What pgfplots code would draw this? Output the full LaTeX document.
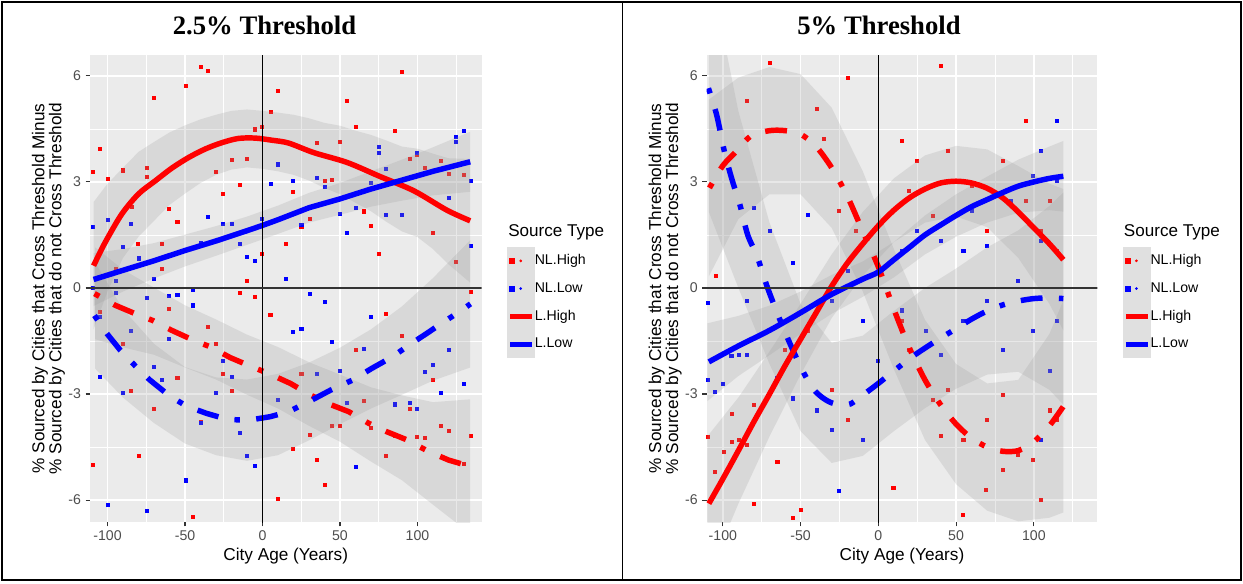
\documentclass[border=0pt]{standalone}
\usepackage{fontspec}
\setmainfont{Liberation Sans}
\newfontfamily\titlefont{Liberation Serif}
\usepackage{pgfplots}
\pgfplotsset{compat=1.18}
\definecolor{panelbg}{HTML}{EBEBEB}
\definecolor{tickcol}{HTML}{4D4D4D}
\definecolor{keybg}{HTML}{E0E0E0}
\pgfplotsset{
  common/.style={
    scale only axis, anchor=south west, height=350.25pt, ymin=-6.62, ymax=6.59,
    axis background/.style={fill=panelbg},
    axis line style={draw=none},
    xtick={-100,-50,0,50,100}, ytick={-6,-3,0,3,6},
    minor xtick={-75,-25,25,75,125}, minor ytick={-4.5,-1.5,1.5,4.5},
    grid=both, major grid style={white, line width=1.1pt}, minor grid style={white, line width=0.55pt},
    tick align=outside, major tick length=3.2pt, minor tick length=0pt,
    xtick pos=bottom, ytick pos=left,
    tick style={black!80, line width=0.8pt},
    tick label style={font=\fontsize{10.6}{12}\selectfont, text=tickcol},
    /pgf/number format/assume math mode=true,
    xlabel={City Age (Years)},
    xlabel style={at={(axis description cs:0.5,-0.0728)}, anchor=center, font=\fontsize{12.9}{14}\selectfont},
    ylabel={\% Sourced by Cities that Cross Threshold Minus\\\% Sourced by Cities that do not Cross Threshold},
    ylabel style={at={(axis description cs:-0.106,0.5)}, anchor=center, align=center, font=\fontsize{12.9}{12.8}\selectfont},
    clip mode=individual,
    legend style={at={(axis description cs:1.0651,0.5895)}, anchor=north west, draw=none, fill=none,
      inner sep=0pt, row sep=0pt, font=\fontsize{10.6}{12}\selectfont, nodes={inner sep=0pt},
      /tikz/column 2/.style={column sep=6.75pt}},
    legend cell align=left,
  },
  rib/.style={fill=black!40, fill opacity=0.22, draw=none, forget plot},
  lcurve/.style={line width=4.1pt, forget plot, line join=round},
  nlcurve/.style={line width=4.1pt, forget plot, dash pattern=on 4.1pt off 12.3pt on 16.4pt off 12.3pt},
  pts/.style={only marks, mark=square*, mark size=1.15pt, forget plot},
  zline/.style={line width=1.25pt, forget plot},
}
\newcommand{\legendkeys}{%
  \addlegendimage{legend image code/.code={\fill[keybg] (0pt,-10.2pt) rectangle (20.25pt,10.2pt); \fill[red] (1.5pt,-1.9pt) rectangle (5.25pt,1.9pt); \fill[red] (9.9pt,0pt) circle (0.8pt);}}
  \addlegendentry{NL.High}
  \addlegendimage{legend image code/.code={\fill[keybg] (0pt,-10.2pt) rectangle (20.25pt,10.2pt); \fill[blue] (1.5pt,-1.9pt) rectangle (5.25pt,1.9pt); \fill[blue] (9.9pt,0pt) circle (0.8pt);}}
  \addlegendentry{NL.Low}
  \addlegendimage{legend image code/.code={\fill[keybg] (0pt,-10.2pt) rectangle (20.25pt,10.2pt); \draw[red, line width=3.75pt] (2pt,0pt) -- (18.25pt,0pt);}}
  \addlegendentry{L.High}
  \addlegendimage{legend image code/.code={\fill[keybg] (0pt,-10.2pt) rectangle (20.25pt,10.2pt); \draw[blue, line width=3.75pt] (2pt,0pt) -- (18.25pt,0pt);}}
  \addlegendentry{L.Low}
}
\begin{document}
\begin{tikzpicture}
\useasboundingbox (0,0) rectangle (932.25pt,437.25pt);
% ================= Panel 1 =================
\begin{axis}[common, at={(67.5pt,45.75pt)}, width=293.625pt, xmin=-111.3, xmax=141.3]
% points
\addplot[pts, red] coordinates {
(-109.7,3.29) (-105.2,3.95) (-99.8,3.10) (-89.9,3.33) (-74.6,3.39) (-74.6,3.15) (-70.1,5.37) (-49.7,5.72) (-39.8,6.26) (-35.3,6.15) (-29.9,3.29) (-25.4,2.66) (-19.8,3.62) (-14.4,2.93) (-10.1,3.66) (-4.7,4.49) (-0.4,4.56) (5.2,4.99) (9.9,5.59) (-84.3,2.30) (-80.2,1.25) (-64.7,1.25) (-60.2,2.23) (-55.0,1.87) (-65,0.54) (-94.6,0.54) (-0.4,0.98) (-10.1,0.21) (15.3,1.25)
(89.7,6.12) (54.6,5.29) (60,4.56) (85.2,4.46) (34.8,4.10) (49.9,4.13) (95,3.66) (99.4,3.76) (114.8,3.60) (104.7,3.39) (120.2,3.24) (129.9,3.19) (40.2,3.03) (44.5,3.06) (19.5,2.73) (30.3,1.97) (25,1.73) (65.4,2.17) (69.9,1.76) (109.9,1.57) (14.8,1.24) (75,0.96) (124.5,0.75)
(-105.2,-0.66) (-89.9,-1.59) (-84.7,-2.91) (-70.1,-3.41) (-60.2,-0.60) (-55,-2.55) (-35.3,-1.09) (-29.9,-1.59) (-25.4,-2.42) (-19.8,-2.91) (-14.4,-0.14) (-4.7,-0.26) (5,-0.75) (-39.8,-3.79) (-80,-4.74) (-109.7,-5.01) (-45.2,-6.48) (9.7,-5.95)
(134.6,-0.10) (79.8,-0.73) (89.7,-1.36) (60,-1.76) (110.1,-2.59) (25,-2.42) (65.4,-3.19) (95,-3.42) (44.5,-3.91) (49.9,-3.91) (69.9,-3.95) (114.8,-3.89) (120.2,-4.05) (30.3,-4.14) (85.2,-4.19) (99.4,-4.21) (104.7,-4.25) (134.6,-4.18) (19.5,-4.55) (79.8,-4.74) (34.8,-4.85) (129.9,-4.98) (40.2,-5.57)
};
\addplot[pts, blue] coordinates {
(-109.7,1.74) (-99.8,1.93) (-84.7,1.81) (-80,2.66) (-89.9,1.17) (-80,0.84) (-94.6,0.21) (-70.1,0.26) (-39.8,1.29) (-35.3,2.02) (-25.4,1.81) (-19.8,1.81) (-14.4,1.25) (-10.1,0.87) (-4.7,0.78) (-0.4,1.95) (5.2,2.94) (9.9,3.50) (15.3,0.26) (-109.7,0.0) (-45.2,-0.04)
(129.9,4.46) (124.5,4.29) (124.5,4.14) (75,3.99) (75,3.83) (99.4,3.83) (79.5,3.37) (19.5,3.03) (34.8,3.13) (40.2,2.86) (69.7,2.97) (134.6,3.03) (120.2,2.56) (60,2.26) (49.9,2.09) (79.5,2.06) (89.7,2.06) (25,1.79) (54.6,1.57) (134.6,1.20)
(-94.6,-0.14) (-105.2,-0.82) (-74.6,-0.29) (-60.4,-0.23) (-55,-0.19) (-45,-0.49) (-84.7,-1.20) (-60.4,-1.43) (-105.2,-2.52) (-89.9,-2.96) (-70.1,-2.23) (-65,-2.59) (-25.4,-2.06) (-19.8,-2.52) (-29.9,-2.96) (-39.8,-3.80) (-14.4,-4.10) (-10.1,-4.74) (-4.7,-5.02) (9.7,-3.15) (-49.7,-5.44) (-99.8,-6.14) (-74.6,-6.31)
(30.3,-0.16) (40.2,-0.39) (69.9,-0.82) (19.5,-1.23) (25,-1.16) (44.5,-1.52) (65.4,-1.73) (120.2,-1.76) (49.9,-2.33) (34.8,-2.42) (104.7,-2.36) (110.1,-2.16) (129.9,-2.72) (114.8,-2.96) (54.6,-3.25) (85.2,-3.29) (95,-3.25) (99.4,-3.42) (60,-5.07)
};
% ribbons
\addplot[rib] coordinates {(-108,1.15) (-90,0.52) (-70,0.01) (-50,-0.49) (-30,-0.89) (-10,-1.32) (10,-1.67) (30,-2.1) (50,-2.45) (70,-2.81) (90,-3.04) (110,-3.23) (134,-3.15)
 (134,-6.95) (110,-6.13) (90,-5.44) (70,-4.91) (50,-4.35) (30,-3.9) (10,-3.41) (-10,-3.02) (-30,-2.59) (-50,-2.25) (-70,-1.89) (-90,-1.68) (-108,-1.45)} -- cycle;
\addplot[rib] coordinates {(-108,0.72) (-90,-0.6) (-70,-1.58) (-50,-2.24) (-30,-2.53) (-10,-2.59) (10,-2.43) (30,-2.11) (50,-1.69) (70,-1.17) (90,-0.52) (110,0.28) (134,1.35)
 (134,-2.25) (110,-2.62) (90,-3.02) (70,-3.41) (50,-3.85) (30,-4.31) (10,-4.73) (-10,-4.89) (-30,-4.73) (-50,-4.4) (-70,-3.82) (-90,-3.1) (-108,-2.28)} -- cycle;
\addplot[rib] coordinates {(-109,2.43) (-100,2.95) (-90,3.4) (-80,3.85) (-70,4.13) (-60,4.4) (-50,4.6) (-40,4.77) (-30,4.9) (-20,5.01) (-10,5.05) (0,5.01) (10,4.96) (20,4.9) (30,4.8) (40,4.67) (50,4.59) (60,4.45) (70,4.33) (80,4.17) (90,4.0) (100,3.94) (110,3.8) (120,3.67) (134,3.65)
 (134,0.15) (120,0.67) (110,1.1) (100,1.44) (90,1.6) (80,1.87) (70,2.17) (60,2.41) (50,2.65) (40,2.83) (30,3.04) (20,3.2) (10,3.3) (0,3.37) (-10,3.41) (-20,3.35) (-30,3.2) (-40,2.97) (-50,2.67) (-60,2.35) (-70,1.9) (-80,1.45) (-90,0.85) (-100,-0.1) (-109,-1.17)} -- cycle;
\addplot[rib] coordinates {(-109,0.99) (-90,1.1) (-70,1.27) (-50,1.51) (-30,1.75) (-10,2.02) (10,2.33) (30,2.69) (50,2.97) (70,3.3) (90,3.63) (110,3.98) (134,4.42)
 (134,2.72) (110,2.62) (90,2.47) (70,2.3) (50,2.07) (30,1.85) (10,1.53) (-10,1.22) (-30,0.91) (-50,0.61) (-70,0.27) (-90,-0.1) (-109,-0.51)} -- cycle;
% curves
\addplot[nlcurve, red] coordinates {(-108.4,-0.16) (-95,-0.49) (-82,-0.73) (-70.8,-0.92) (-58.5,-1.2) (-44.5,-1.48) (-33.4,-1.67) (-20.8,-1.97) (-7.9,-2.21) (5,-2.44) (18,-2.70) (31,-3.03) (43.4,-3.29) (55.7,-3.5) (68.6,-3.83) (80.4,-4.07) (93.4,-4.3) (107.3,-4.63) (120.2,-4.87) (134.2,-5.05)};
\addplot[nlcurve, blue] coordinates {(-108.4,-0.78) (-100.4,-1.29) (-91.8,-1.76) (-82.2,-2.2) (-72.5,-2.61) (-60.6,-3.03) (-49.2,-3.34) (-35.9,-3.55) (-22.4,-3.72) (-8.8,-3.74) (5,-3.64) (16.8,-3.50) (31,-3.19) (43.9,-2.89) (57.9,-2.61) (70.3,-2.28) (83.7,-1.95) (94.4,-1.62) (105.8,-1.29) (117,-0.96) (128.8,-0.62) (134.2,-0.45)};
\addplot[lcurve, red, smooth] coordinates {(-109,0.63) (-101.5,1.29) (-90.8,2.09) (-80,2.66) (-69.2,3.03) (-58.5,3.39) (-47.7,3.69) (-37,3.93) (-26.2,4.11) (-15.5,4.23) (-4.7,4.24) (6,4.18) (16.8,4.1) (33,3.83) (54.6,3.55) (76,3.15) (97.6,2.75) (119,2.2) (134,1.9)};
\addplot[lcurve, blue] coordinates {(-109,0.24) (-90,0.5) (-70,0.77) (-50,1.06) (-30,1.33) (-10,1.62) (0,1.77) (10,1.93) (30,2.27) (50,2.52) (70,2.8) (90,3.05) (110,3.3) (134,3.57)};
% zero lines
\addplot[zline, black] coordinates {(0,-7) (0,7)};
\addplot[zline, black!80] coordinates {(-120,0) (150,0)};
\legendkeys
\node[anchor=west, font=\fontsize{12.8}{14}\selectfont, inner sep=0pt] at (axis description cs:1.0677,0.6203) {Source Type};
\end{axis}
% ================= Panel 2 =================
\begin{axis}[common, at={(530.0pt,45.75pt)}, width=292.95pt, xmin=-110.4, xmax=140.8]
\addplot[pts, red] coordinates {
(-70.1,6.36) (-19.8,5.94) (-84.7,5.29) (-39.8,5.06) (-35.3,4.22) (-25.4,2.19) (-14.4,1.62)
(-104.6,0.35) (-109.7,-4.21) (-105.2,-5.20) (-99.7,-4.63) (-94.3,-4.35) (-94.3,-3.55) (-89.9,-4.30) (-84.7,-4.44) (-80.2,-3.31) (-80,-6.1)
(-55,-6.51) (-49.9,-6.28) (9.6,-5.64) (69.3,-5.71) (54.3,-6.41)
(-65,-4.92) (-60.2,-1.76) (-45.2,-1.2) (-29.9,-2.89) (-19.8,-3.74) (-10.1,-4.3)
(40.2,6.28) (95,4.72) (14.8,4.16) (25,3.6) (44.5,3.88) (60,2.89) (79.8,3.6) (95,2.47) (104.7,1.62) (110.1,2.47) (114.8,1.06) (19.5,2.75) (34.8,2.05) (69.9,1.62)
(14.8,-0.92) (34.8,-3.17) (40.2,-4.19) (54.6,-4.3) (69.9,-3.74) (79.8,-5.15) (89.7,-4.72) (99.4,-4.87) (114.8,-3.74) (104.7,-5.99) (19.5,-1.76) (44.5,-2.89) (79.8,-3.03) (110.1,-3.46)
};
\addplot[pts, blue] coordinates {
(-109.7,-0.42) (-109.7,-2.59) (-105.2,-2.94) (-99.8,-2.70) (-94.6,-1.93) (-89.9,-1.90) (-84.7,-1.88) (-80,2.28)
(-25.4,-5.74) (-99.8,3.46) (-45.2,2.07) (-55,0.72) (-65,-2.55) (-55,-3.12) (-39.8,-3.46) (-29.9,-4.02) (-10.1,-4.3) (-29.9,-0.35) (-19.8,0.49) (-10.1,-0.92)
(-70.1,1.62) (-84.7,-0.35)
(104.7,3.88) (99.4,3.17) (114.8,3.03) (85.2,2.47) (69.9,1.2) (54.6,1.06) (40.2,1.34) (25,1.62) (14.8,1.06) (104.7,1.34) (60,2.19) (114.8,4.72)
(14.8,-0.63) (30.3,-1.2) (54.6,-0.92) (69.9,-0.35) (79.8,-1.76) (99.4,-1.2) (110.1,-2.33) (114.8,-0.92) (104.7,-4.3) (40.2,-1.9) (-0.4,-2.05) (89.7,0.21)
};
\addplot[rib] coordinates {(-109,5.33) (-90,5.95) (-70,6.25) (-50,6.05) (-30,5.1) (-10,3.3) (10,1.1) (30,-0.9) (50,-2.15) (70,-2.7) (90,-2.6) (110,-1.3) (119,-0.35)
 (119,-6.35) (110,-6.5) (90,-6.6) (70,-6.3) (50,-5.55) (30,-4.3) (10,-2.3) (-10,-0.1) (-30,1.7) (-50,2.65) (-70,2.65) (-90,1.95) (-109,0.33)} -- cycle;
\addplot[rib] coordinates {(-109,9.15) (-90,5.0) (-70,1.85) (-50,-0.45) (-30,-1.55) (-10,-1.35) (10,-0.65) (30,0) (50,0.55) (70,1.15) (90,1.63) (110,2.32) (119,2.7)
 (119,-3.3) (110,-2.88) (90,-2.37) (70,-2.45) (50,-2.85) (30,-3.4) (10,-4.05) (-10,-4.75) (-30,-4.95) (-50,-4.05) (-70,-2.15) (-90,0.0) (-109,2.15)} -- cycle;
\addplot[rib] coordinates {(-110,-4.2) (-90,-3.1) (-70,-1.8) (-50,-0.45) (-30,0.95) (-10,2.15) (10,3.1) (30,3.75) (50,4.02) (70,3.92) (90,3.45) (110,2.95) (119,2.8)
 (119,-1.2) (110,-0.45) (90,0.85) (70,1.72) (50,2.02) (30,1.85) (10,1.3) (-10,0.35) (-30,-0.85) (-50,-2.45) (-70,-4.2) (-90,-6.1) (-110,-8.2)} -- cycle;
\addplot[rib] coordinates {(-110,-1.0) (-90,-0.79) (-70,-0.5) (-50,-0.1) (-30,0.37) (-10,0.75) (10,1.3) (30,2.05) (50,2.65) (70,3.15) (90,3.63) (110,4.0) (119,4.16)
 (119,2.16) (110,2.2) (90,2.13) (70,1.85) (50,1.45) (30,0.95) (10,0.3) (-10,-0.25) (-30,-0.73) (-50,-1.3) (-70,-1.9) (-90,-2.49) (-110,-3.2)} -- cycle;
\addplot[nlcurve, red, smooth] coordinates {(-108.6,2.83) (-100,3.46) (-91,3.88) (-82,4.3) (-70,4.45) (-60,4.45) (-50,4.35) (-40,4.0) (-30,3.4) (-20,2.6) (-10,1.6) (0,0.6) (10,-0.6) (20,-1.7) (30,-2.6) (40,-3.3) (50,-3.85) (60,-4.25) (70,-4.5) (80,-4.62) (90,-4.6) (100,-4.35) (110,-3.9) (119,-3.35)};
\addplot[nlcurve, blue, smooth] coordinates {(-109.3,5.65) (-104,4.9) (-99,3.86) (-94,3.05) (-89,2.35) (-84,1.5) (-78,0.9) (-72,0.1) (-66,-0.6) (-60,-1.25) (-54,-1.85) (-48,-2.4) (-42,-2.85) (-36,-3.1) (-30,-3.25) (-24,-3.3) (-18,-3.28) (-12,-3.1) (-6,-2.9) (0,-2.7) (10,-2.35) (20,-2.0) (30,-1.7) (40,-1.42) (50,-1.15) (60,-0.88) (70,-0.65) (80,-0.48) (90,-0.37) (100,-0.3) (110,-0.28) (119,-0.3)};
\addplot[lcurve, red, smooth] coordinates {(-109,-6.1) (-100,-5.4) (-90,-4.6) (-80,-3.78) (-70,-3.0) (-60,-2.2) (-50,-1.45) (-40,-0.7) (-30,0.05) (-20,0.7) (-10,1.25) (0,1.76) (10,2.2) (20,2.55) (30,2.8) (40,2.97) (50,3.02) (60,2.97) (70,2.82) (80,2.55) (90,2.15) (100,1.7) (110,1.25) (119,0.8)};
\addplot[lcurve, blue, smooth] coordinates {(-109,-2.09) (-90,-1.64) (-70,-1.2) (-50,-0.7) (-30,-0.18) (-10,0.25) (0,0.45) (10,0.8) (20,1.15) (30,1.5) (40,1.78) (50,2.05) (60,2.3) (70,2.5) (80,2.7) (90,2.88) (100,3.0) (110,3.1) (119,3.16)};
\addplot[zline, black] coordinates {(0,-7) (0,7)};
\addplot[zline, black!80] coordinates {(-120,0) (150,0)};
\legendkeys
\node[anchor=west, font=\fontsize{12.8}{14}\selectfont, inner sep=0pt] at (axis description cs:1.0677,0.6203) {Source Type};
\end{axis}
% titles and frame
\node[anchor=base, font=\titlefont\bfseries\fontsize{20}{24}\selectfont] at (198.4pt,411.4pt) {2.5\% Threshold};
\node[anchor=base, font=\titlefont\bfseries\fontsize{20}{24}\selectfont] at (659.25pt,411.4pt) {5\% Threshold};
\draw[line width=1.1pt] (1.5pt,2.25pt) rectangle (930.75pt,435.75pt);
\draw[line width=0.9pt] (466.9pt,2.25pt) -- (466.9pt,435.75pt);
\end{tikzpicture}
\end{document}
